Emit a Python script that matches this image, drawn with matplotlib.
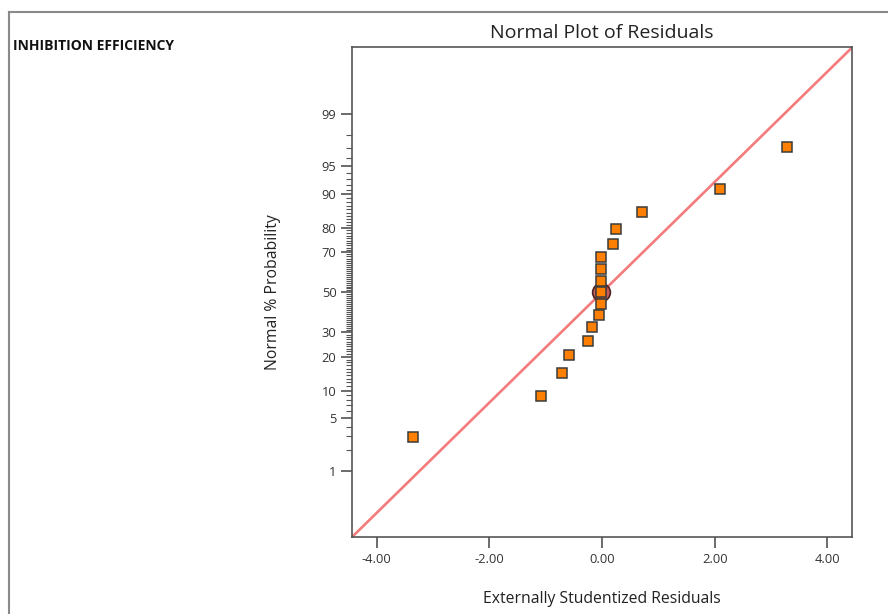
"""Normal plot of residuals (Design-Expert style) for inhibition efficiency."""
from statistics import NormalDist

import matplotlib
matplotlib.use("Agg")
import matplotlib.pyplot as plt
import numpy as np

plt.rcParams["font.family"] = ["Open Sans", "DejaVu Sans"]

# externally studentized residuals, sorted
residuals = [-3.36, -1.08, -0.705, -0.586, -0.254, -0.183, -0.053, -0.023, -0.023,
             -0.023, -0.023, -0.023, 0.20, 0.252, 0.705, 2.10, 3.284]
# normal % probability of each point
probability = [2.94, 8.82, 14.71, 20.59, 26.47, 32.35, 38.24, 44.12, 50.0,
               55.88, 61.76, 67.65, 73.53, 79.41, 85.29, 91.18, 97.06]
highlight = 8  # circled point

major_ticks = [1, 5, 10, 20, 30, 50, 70, 80, 90, 95, 99]
minor_ticks = [p for p in range(2, 99) if p not in major_ticks]
x_ticks = [-4.0, -2.0, 0.0, 2.0, 4.0]

x_lim = 4.443
z_lim = 3.196
line_slope = z_lim / x_lim

nd = NormalDist()


def z(p):
    return nd.inv_cdf(p / 100.0)


fig = plt.figure(figsize=(8.88, 6.14), dpi=100)
ax = fig.add_axes([0.3961, 0.1249, 0.5637, 0.7981])

zs = [z(p) for p in probability]

# reference line
lx = np.array([-x_lim, x_lim])
ax.plot(lx, lx * line_slope, color="#f47b7b", lw=1.9, zorder=2)

# highlighted point circle
ax.plot(residuals[highlight], zs[highlight], "o", ms=12.8, mfc=(0.7, 0.15, 0.15, 0.75),
        mec="#4a2424", mew=1.2, zorder=3)

ax.plot(residuals, zs, "s", ms=7.8, mfc="#ff8000", mec="#3a3a3a", mew=1.1,
        linestyle="none", zorder=4)

ax.set_xlim(-x_lim, x_lim)
ax.set_ylim(-z_lim, z_lim)

ax.set_xticks(x_ticks)
ax.set_xticklabels([f"{v:.2f}" for v in x_ticks])
ax.set_yticks([z(p) for p in major_ticks])
ax.set_yticklabels([str(p) for p in major_ticks])
ax.set_yticks([z(p) for p in minor_ticks], minor=True)

ax.tick_params(axis="both", which="major", length=8, width=1.1, color="#444444",
               labelsize=9.3, labelcolor="#333333", pad=3)
ax.tick_params(axis="y", which="minor", length=4.3, width=0.8, color="#555555")
for s in ax.spines.values():
    s.set_color("#555555")
    s.set_linewidth(1.2)

ax.set_title("Normal Plot of Residuals", fontsize=14, color="#222222", pad=7)
ax.set_xlabel("Externally Studentized Residuals", fontsize=11.3, color="#222222",
              labelpad=18.5)
ax.set_ylabel("Normal % Probability", fontsize=11.3, color="#222222", labelpad=29)

fig.text(0.0146, 0.925, "INHIBITION EFFICIENCY", fontsize=10, fontweight="bold",
         color="#111111", va="center", ha="left")

# frame of the cropped screenshot
fig.add_artist(plt.Line2D([9 / 888, 9 / 888], [0, 1 - 11.7 / 614], color="#8a8a8a", lw=1.5))
fig.add_artist(plt.Line2D([9 / 888, 1], [1 - 11.7 / 614, 1 - 11.7 / 614], color="#8a8a8a", lw=1.5))

fig.savefig("out.png", dpi=100)
plt.close(fig)
